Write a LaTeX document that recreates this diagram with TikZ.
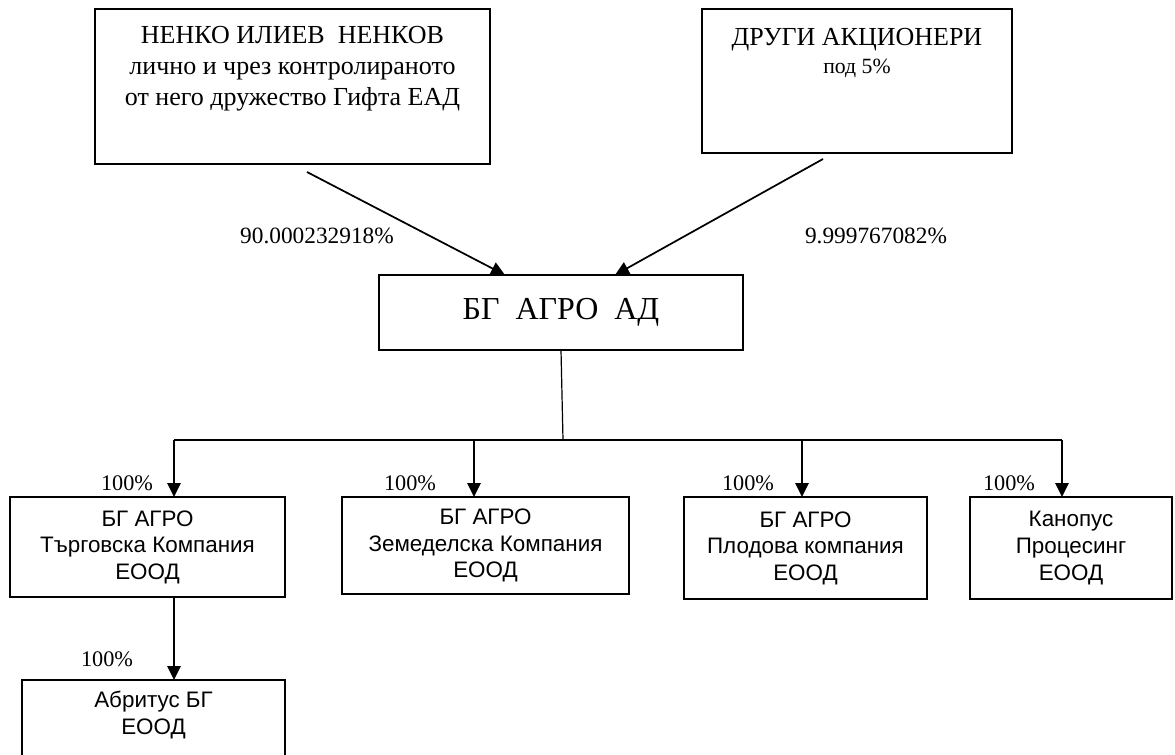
\documentclass[tikz,border=0pt]{standalone}
\usepackage{fontspec}
\setmainfont{Liberation Serif}
\newfontfamily\arialfont{Liberation Sans}
\usetikzlibrary{arrows.meta,calc}
\tikzset{
	box/.style={draw, rectangle, line width=1.2pt, inner sep=0pt, outer sep=0pt, anchor=north west},
	size/.style 2 args={minimum width=#1*0.75pt, minimum height=#2*0.75pt},
	topbox/.style={box, line width=1.5pt},
	subbox/.style={box, align=center, font=\arialfont\fontsize{16.8}{19.9}\selectfont},
	toptext/.style={align=center, inner sep=0pt, anchor=north, font=\fontsize{19.5}{23.25}\selectfont},
	pct/.style={inner sep=0pt, font=\fontsize{17.5}{20}\selectfont},
	share/.style={inner sep=0pt, font=\fontsize{16.7}{20}\selectfont},
	arr/.style={line width=1.3pt, -{Triangle[length=10.5pt, width=10pt]}}
}
\begin{document}
\begin{tikzpicture}[x=0.75pt, y=-0.75pt]
			%%%%% START %%%%%
			
			\useasboundingbox (0,0) rectangle (1175,754);
			
			\node[topbox, size={395}{155}] (nenko) at (95,9) {};
			\node[toptext] (nenkoText) at (292.5,26) {НЕНКО ИЛИЕВ\ \ НЕНКОВ\\лично и чрез контролираното\\от него дружество Гифта ЕАД};
			
			\node[topbox, size={310}{144}] (others) at (702,9) {};
			\node[toptext] (othersText) at (857,28) {ДРУГИ АКЦИОНЕРИ\\[-2.25pt]{\fontsize{16.3}{19}\selectfont под 5\%}};
			
			\node[box, size={364}{75}, font=\fontsize{24}{28}\selectfont] (agro) at (379,275) {БГ\ \ АГРО\ \ АД};
			
			\coordinate (tailL) at (307,172);
			\coordinate (tailR) at (823,159);
			\draw[arr] (tailL) -- ($(agro.north)+(-56,0)$);
			\draw[arr] (tailR) -- ($(agro.north)+(54,0)$);
			\node[pct] (pctL) at (317,236) {90.000232918\%};
			\node[pct] (pctR) at (876,236) {9.999767082\%};
			
			\node[subbox, size={275}{100}] (trade) at (10,497) {БГ АГРО\\Търговска Компания\\ЕООД};
			\node[subbox, size={287}{97}] (farm) at (342,497) {БГ АГРО\\Земеделска Компания\\ЕООД};
			\node[subbox, size={243}{102}] (fruit) at (684,497) {БГ АГРО\\Плодова компания\\ЕООД};
			\node[subbox, size={202}{102}] (canopus) at (970,497) {Канопус\\Процесинг\\ЕООД};
			\node[box, size={263}{80}] (abritus) at (22,680) {};
			\node[subbox, anchor=center, draw=none] (abritusText) at (153.5,715) {Абритус БГ\\ЕООД};
			
			\coordinate (bus) at (563,440);
			\coordinate (dA) at (174,440);
			\coordinate (dB) at (474,440);
			\coordinate (dC) at (802,440);
			\coordinate (dD) at (1062,440);
			\draw[line width=0.9pt] (agro.south) -- (bus);
			\draw[line width=1.3pt] (dA) -- (dD);
			\foreach \d/\b in {dA/trade, dB/farm, dC/fruit, dD/canopus}
				\draw[arr] (\d) -- (\d |- \b.north);
			\draw[arr] (dA |- trade.south) -- (dA |- abritus.north);
			
			\node[share] (sA) at (127,483) {100\%};
			\node[share] (sB) at (410,483) {100\%};
			\node[share] (sC) at (748,483) {100\%};
			\node[share] (sD) at (1009,483) {100\%};
			\node[share] (sE) at (107,659) {100\%};
			
			%%%%% END %%%%%
\end{tikzpicture}
\end{document}
